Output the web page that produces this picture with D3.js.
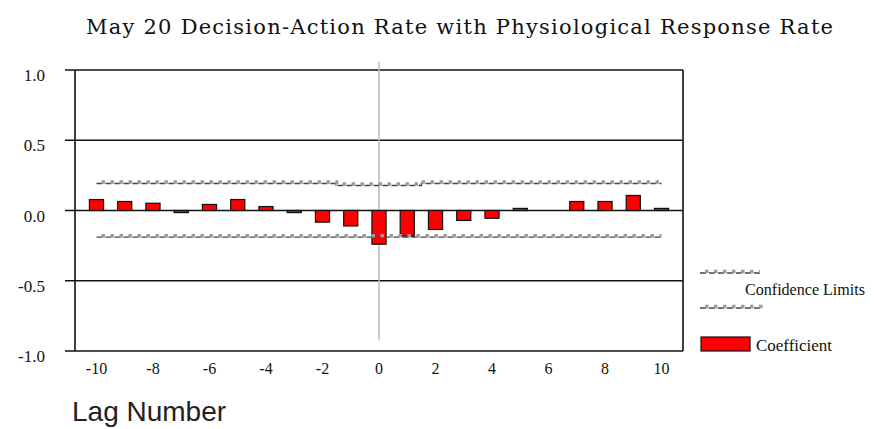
<!DOCTYPE html>
<html>
<head>
<meta charset="utf-8">
<script src="https://cdn.jsdelivr.net/npm/d3@7/dist/d3.min.js"></script>
<style>
  html, body { margin: 0; padding: 0; background: #fff; }
  svg { display: block; }
</style>
</head>
<body>
<svg id="chart" width="874" height="429"></svg>
<script>
// Cross-correlation coefficients by lag
const lags = [-10, -9, -8, -7, -6, -5, -4, -3, -2, -1, 0, 1, 2, 3, 4, 5, 6, 7, 8, 9, 10];
const coefficients = [0.078, 0.064, 0.052, -0.015, 0.043, 0.078, 0.028, -0.015, -0.083, -0.11,
                      -0.24, -0.183, -0.135, -0.071, -0.055, 0.015, 0, 0.064, 0.064, 0.107, 0.015];
const upperLimits = [0.192, 0.192, 0.192, 0.192, 0.192, 0.192, 0.192, 0.192, 0.192, 0.178,
                     0.178, 0.178, 0.192, 0.192, 0.192, 0.192, 0.192, 0.192, 0.192, 0.192, 0.192];
const lowerLimits = [-0.19, -0.19, -0.19, -0.19, -0.19, -0.19, -0.19, -0.19, -0.19, -0.19,
                     -0.19, -0.19, -0.19, -0.19, -0.19, -0.19, -0.19, -0.19, -0.19, -0.19, -0.19];
const xTickLabels = [-10, -8, -6, -4, -2, 0, 2, 4, 6, 8, 10];
const yTickLabels = [1.0, 0.5, 0.0, -0.5, -1.0];

const svg = d3.select("#chart");
const plot = { left: 75, right: 683, top: 70, bottom: 351 };
const serif = "'Liberation Serif', 'Times New Roman', serif";

const x = d3.scalePoint().domain(lags).range([plot.left, plot.right]).padding(0.76);
const y = d3.scaleLinear().domain([-1, 1]).range([plot.bottom, plot.top]);
const barW = x.step() * 0.5;

// Title
svg.append("text")
  .attr("x", 86).attr("y", 34)
  .attr("textLength", 747).attr("lengthAdjust", "spacing")
  .style("font-family", "'DejaVu Serif', serif").style("font-size", "21px").attr("fill", "#111")
  .text("May 20 Decision-Action Rate with Physiological Response Rate");

// Horizontal rules at each y tick, extending left past the axis as tick marks
svg.append("g").selectAll("line").data(yTickLabels).join("line")
  .attr("x1", plot.left - 10).attr("x2", plot.right)
  .attr("y1", d => y(d)).attr("y2", d => y(d))
  .attr("stroke", "#111").attr("stroke-width", 1.6);

// Y tick labels
svg.append("g").selectAll("text").data(yTickLabels).join("text")
  .attr("x", 45).attr("y", d => y(d) + 11)
  .attr("text-anchor", "end")
  .style("font-family", serif).style("font-size", "17px").attr("fill", "#111")
  .text(d => d3.format(".1f")(d).replace("−", "-"));

// Left axis line and right frame
svg.append("line").attr("x1", plot.left).attr("x2", plot.left)
  .attr("y1", y(1)).attr("y2", y(-1)).attr("stroke", "#111").attr("stroke-width", 1.6);
svg.append("line").attr("x1", plot.right).attr("x2", plot.right)
  .attr("y1", y(1)).attr("y2", y(-1)).attr("stroke", "#111").attr("stroke-width", 1.6);

// Reference line at lag 0
svg.append("line").attr("x1", x(0)).attr("x2", x(0))
  .attr("y1", y(1.06)).attr("y2", y(-0.92))
  .attr("stroke", "#bdbdbd").attr("stroke-width", 1.5);

// X tick labels
svg.append("g").selectAll("text").data(xTickLabels).join("text")
  .attr("x", d => x(d)).attr("y", 374)
  .attr("text-anchor", "middle")
  .style("font-family", serif).style("font-size", "16px").attr("fill", "#111")
  .text(d => String(d));

// Coefficient bars
const bars = lags.map((l, i) => ({ lag: l, v: coefficients[i] }));
svg.append("g").selectAll("rect").data(bars).join("rect")
  .attr("x", d => x(d.lag) - barW / 2)
  .attr("width", barW)
  .attr("y", d => y(Math.max(0, d.v)))
  .attr("height", d => Math.abs(y(d.v) - y(0)))
  .attr("fill", "#ff0000").attr("stroke", "#111").attr("stroke-width", 1.2);

// Confidence limit lines: dark dashes with grey markers riding on top
function limitLine(g, pathD) {
  g.append("path").attr("d", pathD).attr("fill", "none")
    .attr("stroke", "#444").attr("stroke-width", 1.3)
    .attr("stroke-dasharray", "6,3");
  g.append("path").attr("d", pathD).attr("fill", "none")
    .attr("stroke", "#9a9a9a").attr("stroke-width", 3.5)
    .attr("stroke-dasharray", "3.5,5.5").attr("stroke-dashoffset", -5)
    .attr("transform", "translate(0,-1.5)");
}
const stepLine = d3.line().x(d => x(d[0])).y(d => y(d[1])).curve(d3.curveStep);
const limits = svg.append("g");
limitLine(limits, stepLine(lags.map((l, i) => [l, upperLimits[i]])));
limitLine(limits, stepLine(lags.map((l, i) => [l, lowerLimits[i]])));

// Legend
const legend = svg.append("g");
limitLine(legend, "M700,273H760");
limitLine(legend, "M700,308H763");
legend.append("text").attr("x", 745).attr("y", 295)
  .attr("textLength", 120).attr("lengthAdjust", "spacingAndGlyphs")
  .style("font-family", serif).style("font-size", "16px").attr("fill", "#111")
  .text("Confidence Limits");
legend.append("rect").attr("x", 701).attr("y", 337).attr("width", 49).attr("height", 14)
  .attr("fill", "#ff0000").attr("stroke", "#111").attr("stroke-width", 1.2);
legend.append("text").attr("x", 756).attr("y", 351)
  .attr("textLength", 76).attr("lengthAdjust", "spacingAndGlyphs")
  .style("font-family", serif).style("font-size", "16px").attr("fill", "#111")
  .text("Coefficient");

// X axis title
svg.append("text").attr("x", 72).attr("y", 421)
  .style("font-family", "'Liberation Sans', Arial, sans-serif").style("font-size", "28px")
  .attr("fill", "#222")
  .text("Lag Number");
</script>
</body>
</html>
